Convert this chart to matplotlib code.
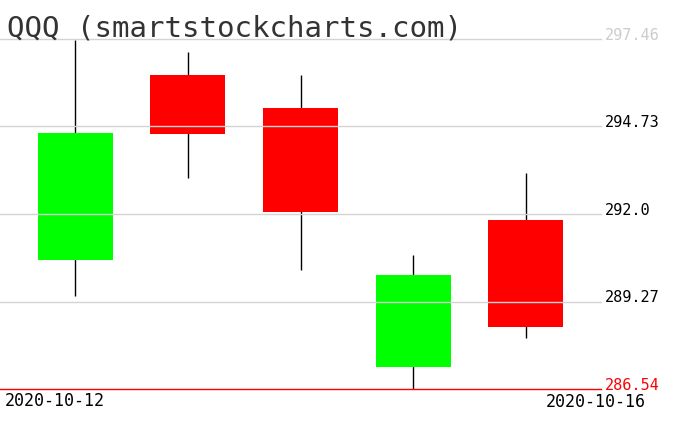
import numpy as np
import matplotlib.pyplot as plt

dates = ['2020-10-12', '2020-10-13', '2020-10-14', '2020-10-15', '2020-10-16']
opens = [290.57, 296.35, 295.32, 287.23, 291.82]
highs = [297.43, 297.06, 296.35, 290.72, 293.29]
lows = [289.45, 293.11, 290.25, 286.53, 288.14]
closes = [294.54, 294.51, 292.07, 290.10, 288.48]
levels = [297.46, 294.73, 292.0, 289.27, 286.54]
level_colors = ['#cccccc', 'black', 'black', 'black', 'red']

W, H = 676, 431
fig = plt.figure(figsize=(W / 100, H / 100), dpi=100)
ax = fig.add_axes([0, (H - 390) / H, 601 / W, 350 / H])
ax.set_xlim(-0.67, 4.67)
ax.set_ylim(levels[-1], levels[0])
ax.axis('off')

x = np.arange(len(dates))
o = np.array(opens)
c = np.array(closes)
cols = ['#00ff00' if cc >= oo else '#ff0000' for oo, cc in zip(o, c)]

ax.vlines(x, lows, highs, color='black', lw=1.0, zorder=1)
ax.bar(x, c - o, bottom=o, width=0.667, color=cols, zorder=2)

# price levels on the right
for lv, col in zip(levels, level_colors):
    lc = 'red' if col == 'red' else '#d3d3d3'
    ax.axhline(lv, color=lc, lw=1.0, zorder=3, clip_on=False)
    ax.text(1.006, lv, str(lv), transform=ax.get_yaxis_transform(),
            color=col, fontsize=11, family='DejaVu Sans Mono',
            ha='left', va='baseline', clip_on=False)

fig.text(7 / W, 1 - 37 / H, 'QQQ (smartstockcharts.com)', fontsize=21,
         family='DejaVu Sans Mono', color='#333333', ha='left', va='baseline')
fig.text(5 / W, 1 - 406 / H, dates[0], fontsize=12, family='DejaVu Sans Mono',
         ha='left', va='baseline')
fig.text(646 / W, 1 - 407 / H, dates[-1], fontsize=12, family='DejaVu Sans Mono',
         ha='right', va='baseline')

fig.savefig('out.png', dpi=100)
